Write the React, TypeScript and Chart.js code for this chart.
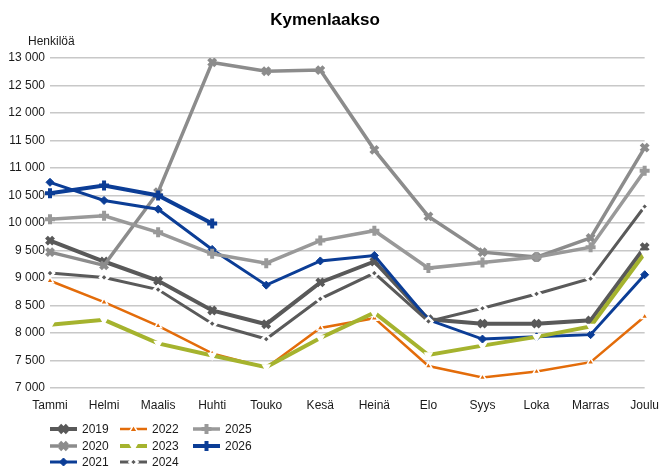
import React, { useEffect, useRef } from "react";
import { Chart, registerables } from "chart.js";

Chart.register(...registerables);

const months = ["Tammi", "Helmi", "Maalis", "Huhti", "Touko", "Kesä", "Heinä", "Elo", "Syys", "Loka", "Marras", "Joulu"];
const y2019 = [9680, 9300, 8950, 8410, 8160, 8920, 9300, 8250, 8170, 8170, 8230, 9560];
const y2020 = [9470, 9230, 10560, 12920, 12760, 12780, 11330, 10120, 9470, 9380, 9730, 11370];
const y2021 = [10740, 10410, 10250, 9520, 8870, 9310, 9410, 8240, 7890, 7930, 7970, 9060];
const y2022 = [8950, 8560, 8130, 7630, 7370, 8090, 8270, 7400, 7190, 7300, 7470, 8300];
const y2023 = [8150, 8240, 7810, 7590, 7380, 7910, 8370, 7600, 7770, 7930, 8120, 9450];
const y2024 = [9090, 9010, 8790, 8170, 7890, 8620, 9090, 8210, 8450, 8710, 8990, 10300];
const y2025 = [10070, 10130, 9830, 9440, 9270, 9680, 9860, 9180, 9280, 9380, 9560, 10950];
const y2026 = [10540, 10680, 10500, 9990, null, null, null, null, null, null, null, null];
const seriesLabels = ["2019", "2020", "2021", "2022", "2023", "2024", "2025", "2026"];
const yTicks = { min: 7000, max: 13000, step: 500 };

const FONT = "'Liberation Sans', Arial, sans-serif";

const styles = [
  { color: "#595959", width: 4, point: "crossRot", radius: 5, pbw: 4, pbg: "#595959", pbc: "#595959", dash: [] },
  { color: "#8c8c8c", width: 3.5, point: "crossRot", radius: 5, pbw: 4, pbg: "#8c8c8c", pbc: "#8c8c8c", dash: [] },
  { color: "#0b3d96", width: 3, point: "rectRot", radius: 4, pbw: 1, pbg: "#0b3d96", pbc: "#0b3d96", dash: [] },
  { color: "#e36c0a", width: 2.5, point: "triangle", radius: 4, pbw: 1.5, pbg: "#e36c0a", pbc: "#ffffff", dash: [] },
  { color: "#a5b32e", width: 4, point: "triangle", radius: 4, pbw: 1.5, pbg: "#ffffff", pbc: "#ffffff", dash: [], rot: 180 },
  { color: "#5a5a5a", width: 3, point: "rectRot", radius: 4, pbw: 2.5, pbg: "#5a5a5a", pbc: "#ffffff", dash: [] },
  { color: "#999999", width: 3.5, point: "cross", radius: 5, pbw: 4, pbg: "#999999", pbc: "#999999", dash: [] },
  { color: "#0b3d96", width: 4, point: "cross", radius: 5, pbw: 4, pbg: "#0b3d96", pbc: "#0b3d96", dash: [] },
];

const seriesData = [y2019, y2020, y2021, y2022, y2023, y2024, y2025, y2026];

function fmt(v: number) {
  return String(v).replace(/\B(?=(\d{3})+(?!\d))/g, " ");
}

function drawMarker(ctx: CanvasRenderingContext2D, s: any, x: number, y: number) {
  ctx.save();
  ctx.lineWidth = s.pbw;
  ctx.strokeStyle = s.pbc;
  ctx.fillStyle = s.pbg;
  ctx.setLineDash([]);
  const r = s.radius;
  ctx.beginPath();
  if (s.point === "crossRot") {
    const d = r * 0.75;
    ctx.moveTo(x - d, y - d); ctx.lineTo(x + d, y + d);
    ctx.moveTo(x + d, y - d); ctx.lineTo(x - d, y + d);
    ctx.stroke();
  } else if (s.point === "cross") {
    ctx.moveTo(x - r, y); ctx.lineTo(x + r, y);
    ctx.moveTo(x, y - r); ctx.lineTo(x, y + r);
    ctx.stroke();
  } else if (s.point === "rectRot") {
    ctx.moveTo(x, y - r); ctx.lineTo(x + r, y); ctx.lineTo(x, y + r); ctx.lineTo(x - r, y); ctx.closePath();
    ctx.fill(); ctx.stroke();
  } else if (s.point === "triangle") {
    const sgn = s.rot ? -1 : 1;
    ctx.moveTo(x, y - sgn * r); ctx.lineTo(x + r, y + sgn * r * 0.7); ctx.lineTo(x - r, y + sgn * r * 0.7); ctx.closePath();
    ctx.fill(); ctx.stroke();
  }
  ctx.restore();
}

const decorPlugin = {
  id: "decor",
  afterDraw(chart: any) {
    const ctx: CanvasRenderingContext2D = chart.ctx;
    ctx.save();
    ctx.fillStyle = "#000";
    ctx.font = `bold 17px ${FONT}`;
    ctx.textAlign = "center";
    ctx.textBaseline = "alphabetic";
    ctx.fillText("Kymenlaakso", 325, 25);
    ctx.font = `12px ${FONT}`;
    ctx.textAlign = "left";
    ctx.fillStyle = "#1a1a1a";
    ctx.fillText("Henkilöä", 28, 45);
    const colX = [50, 120, 193];
    const rowY = [429, 446, 462];
    seriesLabels.forEach((lab, i) => {
      const col = Math.floor(i / 3);
      const row = i % 3;
      const s = styles[i];
      const x0 = colX[col];
      const y0 = rowY[row];
      ctx.save();
      ctx.strokeStyle = s.color;
      ctx.lineWidth = s.width;
      ctx.setLineDash(s.dash);
      ctx.beginPath();
      ctx.moveTo(x0, y0);
      ctx.lineTo(x0 + 27, y0);
      ctx.stroke();
      ctx.restore();
      drawMarker(ctx, s, x0 + 13.5, y0);
      ctx.fillStyle = "#1a1a1a";
      ctx.font = `12px ${FONT}`;
      ctx.textBaseline = "middle";
      ctx.textAlign = "left";
      ctx.fillText(lab, x0 + 32, y0 + 1);
    });
    ctx.restore();
  },
};

export default function App() {
  const ref = useRef<HTMLCanvasElement>(null);
  useEffect(() => {
    document.body.style.margin = "0";
    if (!ref.current) return;
    const chart = new Chart(ref.current, {
      type: "line",
      data: {
        labels: months,
        datasets: seriesData.map((d, i) => {
          const s = styles[i];
          return {
            label: seriesLabels[i],
            data: d,
            borderColor: s.color,
            borderWidth: s.width,
            borderDash: s.dash,
            pointStyle: s.point as any,
            pointRadius: s.radius,
            pointBorderWidth: s.pbw,
            pointBackgroundColor: s.pbg,
            pointBorderColor: s.pbc,
            pointRotation: s.rot || 0,
            tension: 0,
            spanGaps: false,
            order: 100 - i,
          };
        }),
      },
      options: {
        responsive: false,
        animation: false,
        layout: { padding: { left: 0, right: 0, top: 58, bottom: 0 } },
        plugins: { legend: { display: false }, title: { display: false }, tooltip: { enabled: false } },
        scales: {
          x: {
            offset: false,
            grid: { display: false },
            border: { display: false },
            ticks: { color: "#1a1a1a", font: { family: FONT, size: 12 }, padding: 2, maxRotation: 0, autoSkip: false },
            afterFit(scale: any) { scale.height = 80; },
          },
          y: {
            min: yTicks.min,
            max: yTicks.max,
            ticks: {
              stepSize: yTicks.step,
              color: "#1a1a1a",
              font: { family: FONT, size: 12 },
              padding: 5,
              callback: (v: any) => fmt(Number(v)),
            },
            grid: { color: "#c8c8c8", lineWidth: 1.5, drawTicks: false },
            border: { display: false },
            afterFit(scale: any) { scale.width = 50; },
          },
        },
      },
      plugins: [decorPlugin],
    });
    return () => chart.destroy();
  }, []);
  return (
    <div style={{ width: 661, height: 468 }}>
      <canvas ref={ref} width={661} height={468} style={{ display: "block" }} />
    </div>
  );
}
